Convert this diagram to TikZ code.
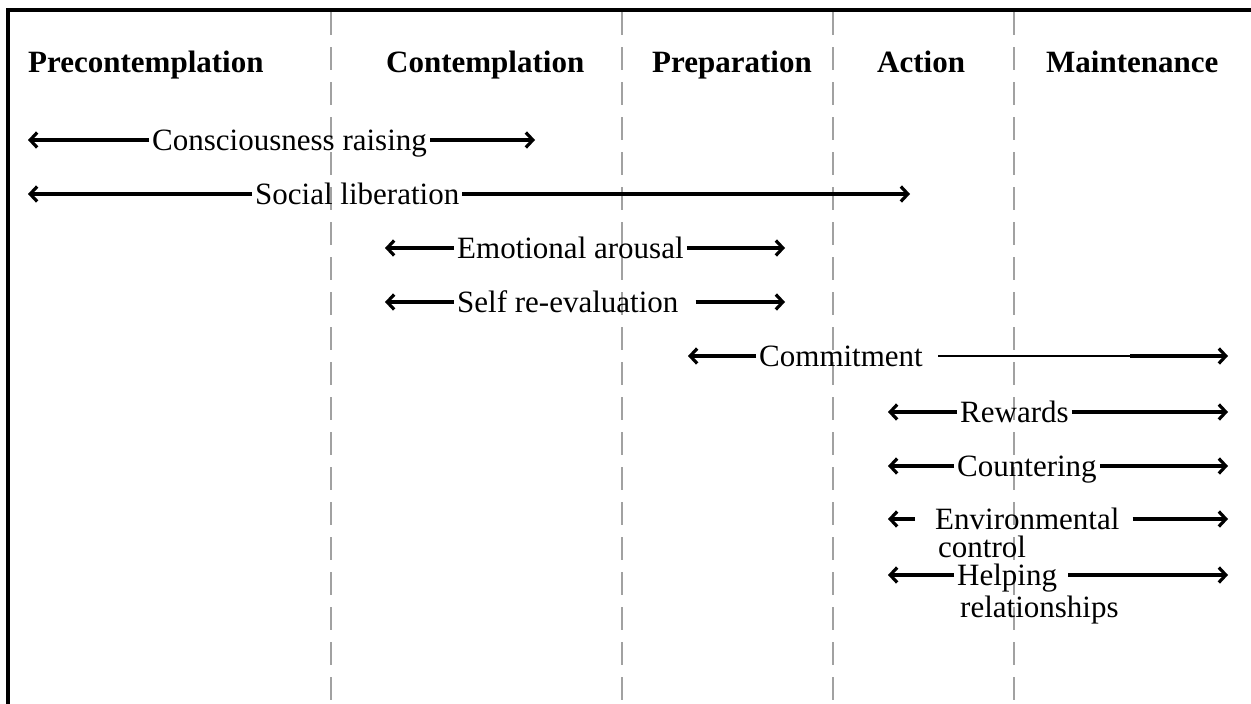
\documentclass[tikz,border=0pt]{standalone}
\usepackage{fontspec}
\setmainfont{Liberation Serif}
\usetikzlibrary{arrows.meta}

\begin{document}
\begin{tikzpicture}[x=1pt,y=-1pt,
  lbl/.style={font=\fontsize{31}{35}\selectfont,inner sep=3pt,text height=20pt,text depth=0pt,anchor=west},
  hdr/.style={font=\fontsize{31}{35}\selectfont\bfseries,inner sep=3pt,anchor=base west},
  arr/.style={-{Straight Barb[length=7pt,width=15pt]},line width=3.2pt},
  sep/.style={draw=black!37,line width=2.6pt,dash pattern=on 23pt off 12pt}]
  \useasboundingbox (0,0) rectangle (1251,704);
  \draw [line width=3.4pt] (8,704) |- (1251,10);
  \foreach \x in {331,622,833,1014}
    \draw [sep] (\x,12) -- (\x,704);

  % stage headers
  \node (pre) [hdr] at (25,72) {Precontemplation};
  \node (con) [hdr] at (383,72) {Contemplation};
  \node (prep) [hdr] at (649,72) {Preparation};
  \node (act) [hdr] at (874,72) {Action};
  \node (main) [hdr] at (1043,72) {Maintenance};

  % processes
  \coordinate (crL) at (28,140);
  \coordinate (crR) at (535,140);
  \node (cr) [lbl] at (149,140) {Consciousness raising}
    edge [arr] (crL)
    edge [arr] (crR);
  \coordinate (slL) at (28,194);
  \coordinate (slR) at (910,194);
  \node (sl) [lbl] at (252,194) {Social liberation}
    edge [arr] (slL)
    edge [arr] (slR);
  \coordinate (eaL) at (385,248);
  \coordinate (eaR) at (785,248);
  \node (ea) [lbl] at (454,248) {Emotional arousal}
    edge [arr] (eaL)
    edge [arr] (eaR);
  \coordinate (srL) at (385,302);
  \coordinate (srR) at (785,302);
  \node (sr) [lbl] at (454,302) {Self re-evaluation}
    edge [arr] (srL)
    edge [arr,shorten <=14pt] (srR);
  \coordinate (cmL) at (688,356);
  \coordinate (cmM) at (1130,356);
  \coordinate (cmR) at (1228,356);
  \node (cm) [lbl] at (756,356) {Commitment}
    edge [arr] (cmL)
    edge [line width=1.3pt,shorten <=12pt] (cmM);
  \draw [arr] (cmM) -- (cmR);
  \coordinate (rwL) at (888,412);
  \coordinate (rwR) at (1228,412);
  \node (rw) [lbl] at (957,412) {Rewards}
    edge [arr] (rwL)
    edge [arr] (rwR);
  \coordinate (ctL) at (888,466);
  \coordinate (ctR) at (1228,466);
  \node (ct) [lbl] at (954,466) {Countering}
    edge [arr] (ctL)
    edge [arr] (ctR);
  \coordinate (ecL) at (888,519);
  \coordinate (ecR) at (1228,519);
  \node (ec) [lbl] at (932,519) {Environmental}
    edge [arr,shorten <=17pt] (ecL)
    edge [arr,shorten <=10pt] (ecR);
  \node (ec2) [lbl] at (935,547) {control};
  \coordinate (hrL) at (888,575);
  \coordinate (hrR) at (1228,575);
  \node (hr) [lbl] at (954,575) {Helping}
    edge [arr] (hrL)
    edge [arr,shorten <=8pt] (hrR);
  \node (hr2) [lbl] at (957,607) {relationships};
\end{tikzpicture}
\end{document}
